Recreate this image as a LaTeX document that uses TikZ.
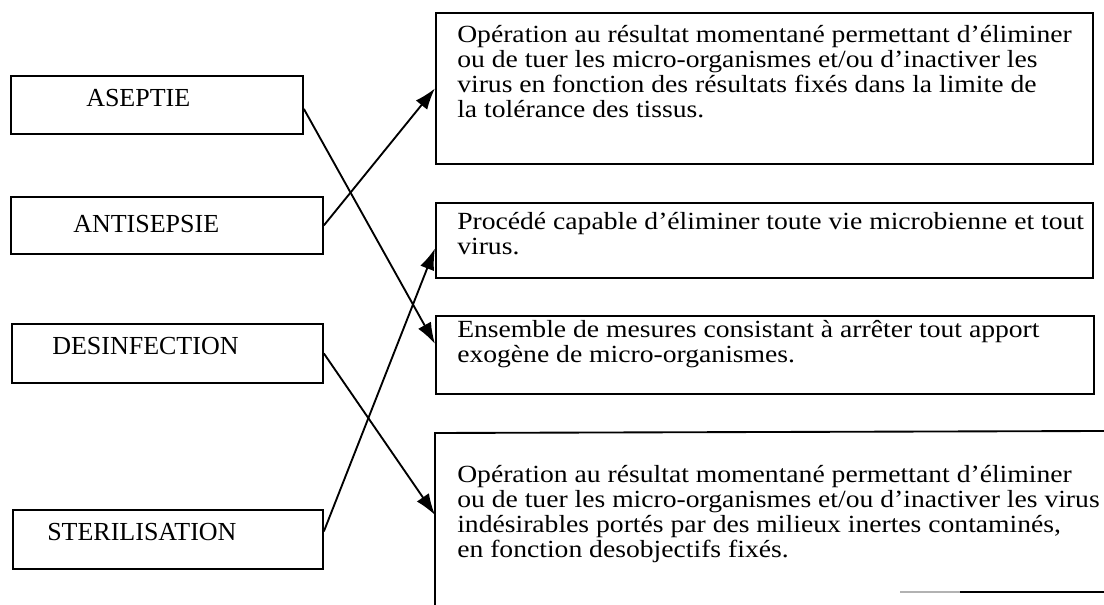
\documentclass[tikz,border=0pt]{standalone}
\usepackage{fontspec}
\setmainfont{Liberation Serif}
\newfontfamily\bodyfont[FakeStretch=1.12]{Liberation Serif}
\usetikzlibrary{arrows.meta,calc}
\begin{document}
\begin{tikzpicture}[x=0.75pt,y=-0.75pt,
  box/.style={draw,line width=1.4pt,inner sep=0pt,anchor=north west},
  lbl/.style={anchor=base west,inner sep=0pt,font=\fontsize{19.5}{23}\selectfont},
  body/.style={anchor=base west,inner sep=0pt,align=left,font=\bodyfont\fontsize{18.5}{18.75}\selectfont},
  link/.style={line width=1.4pt,-{Latex[length=16pt,width=11pt]}}]
\useasboundingbox (0,0) rectangle (1104,605);
% left boxes
\node[box,minimum width=219pt,minimum height=43.5pt] (asep) at (10,75) {};
\node[box,minimum width=234pt,minimum height=42.75pt] (anti) at (10,196) {};
\node[box,minimum width=233.25pt,minimum height=44.25pt] (desi) at (11,323) {};
\node[box,minimum width=232.5pt,minimum height=44.25pt] (ster) at (12,509) {};
\node[lbl] (tasep) at (86,107) {ASEPTIE};
\node[lbl] (tanti) at (73,233) {ANTISEPSIE};
\node[lbl] (tdesi) at (52,355) {DESINFECTION};
\node[lbl] (tster) at (47,541) {STERILISATION};
% right boxes
\node[box,minimum width=492.75pt,minimum height=113.25pt] (r1) at (435,12) {};
\node[box,minimum width=492.75pt,minimum height=56.25pt] (r2) at (435,202) {};
\node[box,minimum width=493.5pt,minimum height=58.5pt] (r3) at (435,315) {};
\draw[line width=1.4pt] (1104,431) -- (435,433) -- (435,605);
\draw[line width=1.4pt,gray!60] (900,592) -- (960,592);
\draw[line width=1.4pt] (960,592) -- (1104,592);
\coordinate (r4w) at (435,515);
% texts (base = baseline of last line)
\node[body] (t1) at (457,118) {Opération au résultat momentané permettant d’éliminer\\ou de tuer les micro-organismes et/ou d’inactiver les\\virus en fonction des résultats fixés dans la limite de\\la tolérance des tissus.};
\node[body] (t2) at (457,255) {Procédé capable d’éliminer toute vie microbienne et tout\\virus.};
\node[body] (t3) at (457,363) {Ensemble de mesures consistant à arrêter tout apport\\exogène de micro-organismes.};
\node[body] (t4) at (457,558) {Opération au résultat momentané permettant d’éliminer\\ou de tuer les micro-organismes et/ou d’inactiver les virus\\indésirables portés par des milieux inertes contaminés,\\en fonction desobjectifs fixés.};
% connectors
\draw[link] ($(asep.east)+(0,4)$) -- ($(r3.west)+(0,-11)$);
\draw[link] (anti.east) -- (r1.west);
\draw[link] (desi.east) -- (r4w);
\draw[link] ($(ster.east)+(0,-8)$) -- ($(r2.west)+(0,8)$);
\end{tikzpicture}
\end{document}
